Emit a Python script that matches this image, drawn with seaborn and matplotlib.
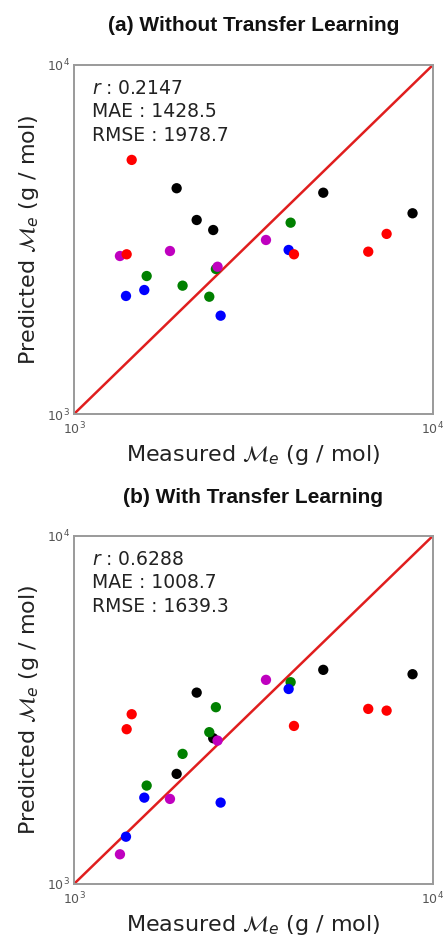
import pandas as pd
import seaborn as sns
import matplotlib.pyplot as plt
import numpy as np

# measured entanglement molecular weight, one list per colour group
groups = ['black', 'green', 'blue', 'magenta', 'red']
measured = {
    'black': [1932, 2197, 2443, 4949, 8775],
    'green': [1594, 2007, 2382, 2485, 4014],
    'blue': [1396, 1570, 2562, 3963],
    'magenta': [1343, 1851, 2512, 3427],
    'red': [1402, 1448, 4101, 6604, 7430],
}
# predictions without transfer learning
pred_a = {
    'black': [4434, 3596, 3366, 4305, 3759],
    'green': [2485, 2332, 2168, 2603, 3533],
    'blue': [2179, 2266, 1913, 2951],
    'magenta': [2836, 2931, 2642, 3152],
    'red': [2868, 5345, 2868, 2918, 3281],
}
# predictions with transfer learning
pred_b = {
    'black': [2071, 3545, 2622, 4121, 4004],
    'green': [1917, 2364, 2729, 3219, 3798],
    'blue': [1367, 1770, 1713, 3631],
    'magenta': [1217, 1755, 2581, 3857],
    'red': [2783, 3073, 2844, 3183, 3147],
}
titles = ['(a) Without Transfer Learning', '(b) With Transfer Learning']
stats = [('0.2147', '1428.5', '1978.7'), ('0.6288', '1008.7', '1639.3')]
palette = {'black': 'k', 'green': 'g', 'blue': 'b', 'magenta': 'm', 'red': 'r'}

rows = []
for g in groups:
    for m, pa, pb in zip(measured[g], pred_a[g], pred_b[g]):
        rows.append({'group': g, 'measured': m, 'pred_a': pa, 'pred_b': pb})
df = pd.DataFrame(rows)

sns.set_style('white')
plt.rcParams['font.family'] = ['DejaVu Sans']
plt.rcParams['mathtext.fontset'] = 'dejavusans'

fig = plt.figure(figsize=(4.47, 9.41), dpi=100)
ax_a = fig.add_axes([0.1655, 0.560, 0.803, 0.371])
ax_b = fig.add_axes([0.1655, 0.0606, 0.803, 0.370])

for ax, col, title, st, ty in zip([ax_a, ax_b], ['pred_a', 'pred_b'], titles, stats, [0.9734, 0.4718]):
    ax.plot([1e3, 1e4], [1e3, 1e4], color='#e01e1e', lw=1.8, zorder=1)
    sns.scatterplot(data=df, x='measured', y=col, hue='group', palette=palette,
                    s=55, linewidth=0, legend=False, ax=ax, zorder=2)
    ax.set_xscale('log')
    ax.set_yscale('log')
    ax.set_xlim(1e3, 1e4)
    ax.set_ylim(1e3, 1e4)
    for sp in ax.spines.values():
        sp.set_color('#9a9a9a')
        sp.set_linewidth(1.4)
    ax.tick_params(which='both', direction='in', colors='#9a9a9a', labelcolor='#555555',
                   labelsize=9, top=False, right=False)
    ax.tick_params(which='major', length=0)
    ax.tick_params(axis='x', which='major', pad=5)
    ax.tick_params(axis='y', which='major', pad=3)
    ax.tick_params(which='minor', length=3.5, width=0.8)
    ax.set_xlabel(r'Measured $\mathcal{M}_e$ (g / mol)', fontsize=16, color='#222222', labelpad=4)
    ax.set_ylabel(r'Predicted $\mathcal{M}_e$ (g / mol)', fontsize=16, color='#222222', labelpad=4)
    fig.text(0.567, ty, title, ha='center', va='center', fontsize=15, fontweight='bold',
             family=['Liberation Sans', 'DejaVu Sans'], color='#111111')
    ax.text(0.05, 0.96, '$r$ : ' + st[0] + '\nMAE : ' + st[1] + '\nRMSE : ' + st[2],
            transform=ax.transAxes, ha='left', va='top', fontsize=13.5,
            linespacing=1.3, color='#222222')

fig.savefig('out.png', dpi=100)
